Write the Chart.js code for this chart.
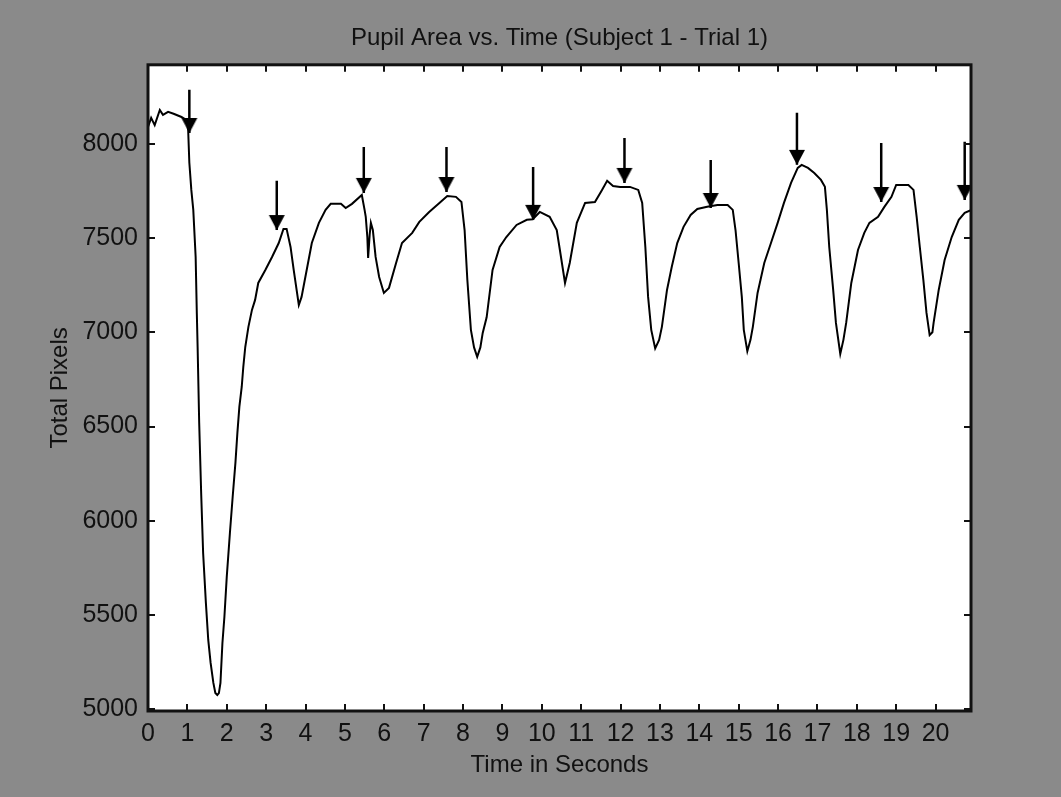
<!DOCTYPE html>
<html><head><meta charset="utf-8">
<script src="https://cdn.jsdelivr.net/npm/chart.js@4.4.1/dist/chart.umd.min.js"></script>
<style>
html,body{margin:0;padding:0;background:#8a8a8a;}
#wrap{width:1061px;height:797px;position:relative;}
canvas{display:block;}
</style></head><body>
<div id="wrap"><canvas id="c" width="1061" height="797"></canvas></div>
<script>
// ---- data ----
const timeSec = [0.00,0.08,0.17,0.30,0.38,0.51,0.65,0.85,0.98,1.02,1.05,1.10,1.15,1.21,1.24,1.26,1.30,1.35,1.40,1.47,1.53,1.59,1.66,1.71,1.76,1.80,1.84,1.89,1.94,2.00,2.08,2.15,2.22,2.27,2.32,2.38,2.42,2.47,2.55,2.64,2.72,2.80,2.98,3.15,3.32,3.44,3.52,3.62,3.70,3.83,3.90,4.03,4.16,4.34,4.51,4.64,4.90,5.02,5.18,5.43,5.50,5.53,5.57,5.59,5.63,5.66,5.71,5.78,5.87,5.99,6.12,6.30,6.45,6.71,6.89,7.14,7.40,7.60,7.82,7.96,8.04,8.11,8.20,8.28,8.36,8.44,8.50,8.60,8.75,8.93,9.10,9.36,9.62,9.77,9.95,10.20,10.38,10.46,10.59,10.71,10.89,11.10,11.35,11.53,11.66,11.81,11.99,12.24,12.45,12.55,12.63,12.70,12.78,12.88,12.98,13.05,13.18,13.30,13.44,13.60,13.78,13.95,14.20,14.46,14.72,14.85,14.92,15.00,15.08,15.13,15.22,15.30,15.36,15.48,15.65,15.82,15.99,16.15,16.33,16.50,16.60,16.76,16.92,17.09,17.19,17.24,17.30,17.40,17.47,17.58,17.66,17.73,17.86,18.03,18.19,18.32,18.54,18.70,18.88,19.00,19.31,19.44,19.52,19.60,19.69,19.77,19.85,19.92,19.95,20.08,20.23,20.41,20.59,20.74,20.92];
const pupilArea = [8090,8138,8100,8180,8154,8170,8160,8143,8127,8074,7900,7756,7650,7400,7100,6922,6519,6147,5829,5564,5367,5245,5139,5086,5075,5085,5139,5351,5489,5702,5935,6126,6307,6466,6604,6710,6816,6922,7029,7119,7172,7262,7331,7400,7474,7549,7549,7453,7331,7145,7188,7331,7474,7581,7650,7682,7682,7660,7682,7729,7650,7613,7506,7395,7520,7581,7543,7400,7294,7209,7236,7368,7474,7528,7586,7639,7687,7724,7719,7692,7543,7278,7013,6920,6870,6920,6997,7080,7331,7453,7506,7570,7597,7600,7639,7613,7543,7437,7262,7368,7581,7687,7692,7756,7804,7777,7772,7772,7756,7687,7453,7188,7013,6915,6960,7029,7225,7347,7474,7560,7623,7655,7666,7676,7676,7650,7543,7368,7188,7013,6900,6960,7029,7209,7368,7474,7581,7687,7793,7873,7889,7873,7846,7809,7772,7650,7453,7225,7050,6885,6960,7050,7262,7437,7528,7581,7613,7666,7719,7782,7782,7756,7613,7453,7278,7103,6985,7000,7050,7225,7384,7506,7597,7634,7650];
const arrowTime = [1.05,3.27,5.48,7.58,9.78,12.10,14.29,16.48,18.62,20.74];
const arrowTop  = [8287,7804,7984,7984,7878,8032,7915,8165,8005,8011];
const arrowTip  = [8058,7543,7740,7745,7597,7793,7660,7889,7692,7703];
const xTickValues = [0,1,2,3,4,5,6,7,8,9,10,11,12,13,14,15,16,17,18,19,20];
const yTickValues = [5000,5500,6000,6500,7000,7500,8000];

// ---- build ----
const pupilPoints = timeSec.map((t,i)=>({x:t,y:pupilArea[i]}));
const arrowPoints = [];
arrowTime.forEach((t,i)=>{ arrowPoints.push({x:t,y:arrowTop[i]},{x:t,y:arrowTip[i]},{x:t,y:null}); });

const head = document.createElement('canvas');
head.width = 18; head.height = 32;
const hc = head.getContext('2d');
hc.fillStyle = '#000';
hc.beginPath(); hc.moveTo(1,1); hc.lineTo(17,1); hc.lineTo(9,16); hc.closePath(); hc.fill();

const INK = '#111';
const frame = {
  id:'frame',
  beforeDraw(chart){
    const a = chart.chartArea, ctx = chart.ctx;
    ctx.save(); ctx.fillStyle = '#fff';
    ctx.fillRect(a.left, a.top, a.right-a.left, a.bottom-a.top);
    ctx.restore();
  },
  afterDatasetsDraw(chart){
    const a = chart.chartArea, ctx = chart.ctx, xs = chart.scales.x, ys = chart.scales.y;
    ctx.save();
    ctx.strokeStyle = INK; ctx.lineWidth = 2;
    ctx.beginPath();
    xTickValues.forEach(v=>{
      const p = Math.round(xs.getPixelForValue(v));
      ctx.moveTo(p, a.bottom); ctx.lineTo(p, a.bottom-7);
      ctx.moveTo(p, a.top); ctx.lineTo(p, a.top+7);
    });
    yTickValues.forEach(v=>{
      const p = Math.round(ys.getPixelForValue(v));
      ctx.moveTo(a.left, p); ctx.lineTo(a.left+7, p);
      ctx.moveTo(a.right, p); ctx.lineTo(a.right-7, p);
    });
    ctx.stroke();
    ctx.lineWidth = 3;
    ctx.strokeRect(a.left, a.top, a.right-a.left, a.bottom-a.top);
    ctx.restore();
  }
};

const tickFont = {family:"'Liberation Sans',Arial,sans-serif", size:25, lineHeight:1.2};
const textFont = {family:"'Liberation Sans',Arial,sans-serif", size:24, lineHeight:1.2, weight:'normal'};

new Chart(document.getElementById('c'), {
  type:'line',
  data:{ datasets:[
    { label:'arrows', data:arrowPoints, borderColor:'#000', borderWidth:2.5, spanGaps:false,
      pointRadius: c => c.dataIndex%3===1 ? 8 : 0,
      pointStyle: c => c.dataIndex%3===1 ? head : 'circle',
      pointHoverRadius:0, order:0 },
    { label:'Pupil Area', data:pupilPoints, borderColor:'#000', borderWidth:2, pointRadius:0, tension:0, order:1 }
  ]},
  options:{
    responsive:false, animation:false, devicePixelRatio:1,
    layout:{ padding:{left:0,right:90,top:0,bottom:0} },
    plugins:{
      legend:{display:false}, tooltip:{enabled:false},
      title:{ display:true, fullSize:false, text:'Pupil Area vs. Time (Subject 1 - Trial 1)', color:INK,
              font:textFont, padding:{top:24,bottom:12} }
    },
    scales:{
      x:{ type:'linear', min:0, max:20.9,
          afterBuildTicks: s => { s.ticks = xTickValues.map(v=>({value:v})); },
          grid:{display:false, drawTicks:false}, border:{display:false},
          ticks:{ padding:8, color:INK, font:tickFont, maxRotation:0, autoSkip:false, callback: v => String(v) },
          title:{ display:true, text:'Time in Seconds', color:INK, font:textFont, padding:{top:0,bottom:17} },
          afterFit: s => { s.height = 86; } },
      y:{ type:'linear', min:4990, max:8420,
          afterBuildTicks: s => { s.ticks = yTickValues.map(v=>({value:v})); },
          grid:{display:false, drawTicks:false}, border:{display:false},
          ticks:{ padding:10, color:INK, font:tickFont, autoSkip:false, callback: v => String(v) },
          title:{ display:true, text:'Total Pixels', color:INK, font:textFont, padding:{top:46,bottom:0} },
          afterFit: s => { s.width = 148; } }
    }
  },
  plugins:[frame]
});
</script>
</body></html>
